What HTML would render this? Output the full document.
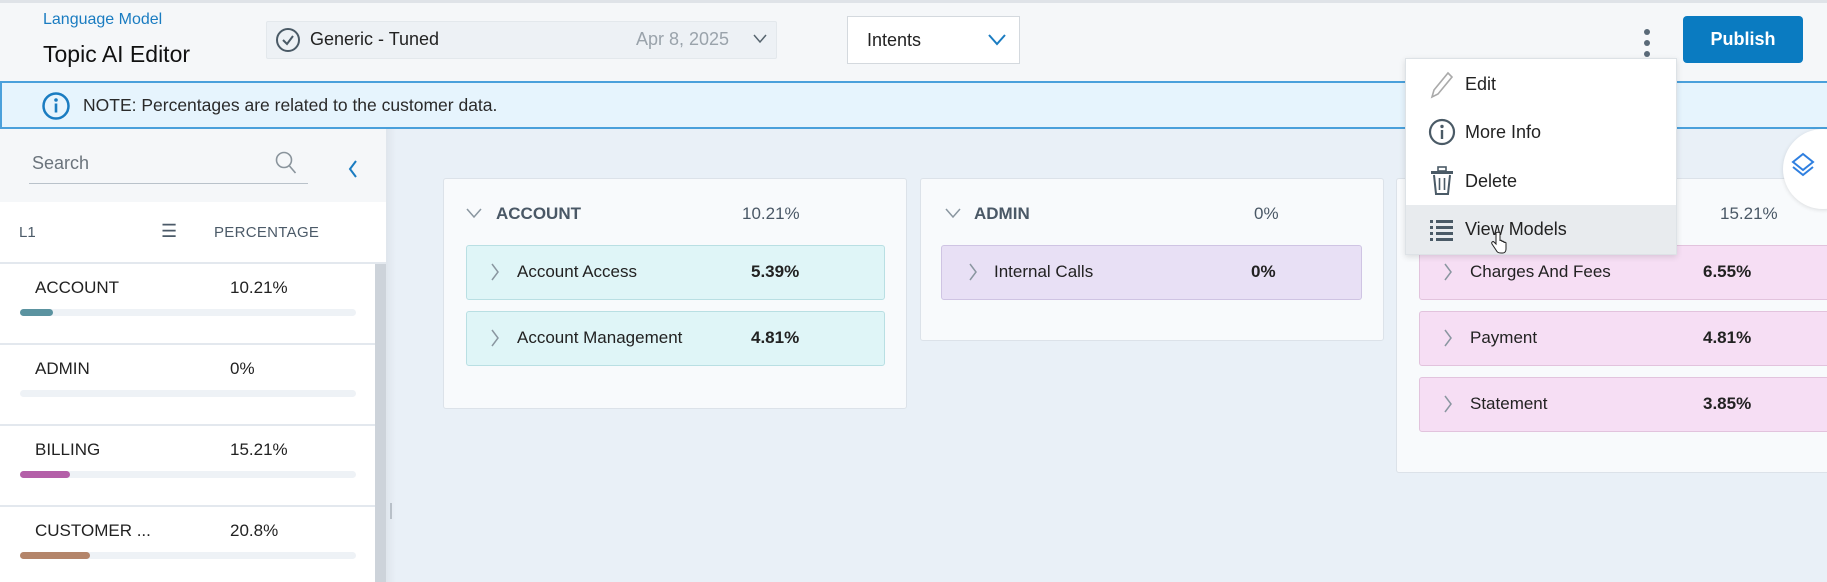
<!DOCTYPE html>
<html><head><meta charset="utf-8"><style>
*{box-sizing:border-box;margin:0;padding:0}
body{width:1827px;height:582px;overflow:hidden;position:relative;background:#f5f7f9;font-family:"Liberation Sans",sans-serif;color:#222}
.a{position:absolute;white-space:nowrap}
.card{position:absolute;background:#f8fafc;border:1px solid #dce2e9;border-radius:3px}
.it{position:absolute;border-radius:3px;height:55px}
.row{position:absolute;left:0;width:375px;height:81px;border-bottom:2px solid #e3e8ee;background:#fff}
.track{position:absolute;left:20px;top:25px;width:336px;height:7px;border-radius:4px;background:#eef2f6}
.fill{position:absolute;left:0;top:0;height:7px;border-radius:4px}
</style></head><body>
<div class="a" style="left:0;top:0;width:1827px;height:3px;background:#dfe3e8"></div>
<div class="a" style="left:43px;top:11px;font-size:16px;color:#1a7cc1">Language Model</div>
<div class="a" style="left:43px;top:41px;font-size:23px;color:#111">Topic AI Editor</div>
<div class="a" style="left:266px;top:21px;width:511px;height:38px;background:#edf1f5;border:1px solid #e3e8ec;border-radius:2px"></div>
<svg class="a" style="left:275px;top:27px" width="26" height="26"><circle cx="13" cy="13" r="11" fill="none" stroke="#4a5a66" stroke-width="2"/><path d="M8 13l4 4 6-8" fill="none" stroke="#4a5a66" stroke-width="2"/></svg>
<div class="a" style="left:310px;top:29px;font-size:18px;color:#222">Generic - Tuned</div>
<div class="a" style="left:636px;top:29px;font-size:18px;color:#9aa3ab">Apr 8, 2025</div>
<svg class="a" style="left:753px;top:34px" width="14" height="10"><path d="M1 1l6 7 6-7" fill="none" stroke="#56646e" stroke-width="1.5"/></svg>
<div class="a" style="left:847px;top:16px;width:173px;height:48px;background:#fff;border:1px solid #d4d9de"></div>
<div class="a" style="left:867px;top:30px;font-size:18px;color:#222">Intents</div>
<svg class="a" style="left:988px;top:34px" width="18" height="12"><path d="M1 1l8 9 8-9" fill="none" stroke="#1a7cc1" stroke-width="2"/></svg>
<svg class="a" style="left:1642px;top:28px" width="10" height="30"><circle cx="5" cy="4" r="3" fill="#5a6a78"/><circle cx="5" cy="15" r="3" fill="#5a6a78"/><circle cx="5" cy="26" r="3" fill="#5a6a78"/></svg>
<div class="a" style="left:1683px;top:16px;width:120px;height:47px;background:#0a7bc1;border-radius:4px;color:#fff;font-size:18px;font-weight:bold;text-align:center;line-height:47px">Publish</div>
<div class="a" style="left:0;top:81px;width:1827px;height:48px;background:#e6f4fd;border-top:2px solid #4aa0db;border-bottom:2px solid #4aa0db;border-left:2px solid #4aa0db"></div>
<svg class="a" style="left:41px;top:91px" width="30" height="30"><circle cx="15" cy="15" r="12.5" fill="none" stroke="#1a7cc1" stroke-width="2.5"/><circle cx="15" cy="9" r="1.8" fill="#1a7cc1"/><rect x="13.7" y="12.5" width="2.6" height="9" fill="#1a7cc1"/></svg>
<div class="a" style="left:83px;top:95px;font-size:17.5px;color:#2a2a2a">NOTE: Percentages are related to the customer data.</div>
<div class="a" style="left:0;top:129px;width:386px;height:453px;background:#f5f7f9"></div>
<div class="a" style="left:386px;top:129px;width:10px;height:453px;background:linear-gradient(90deg,#dfe5ec,#e9f0f7)"></div>
<div class="a" style="left:390px;top:503px;width:2px;height:16px;background:#b8c0c8"></div>
<div class="a" style="left:396px;top:129px;width:1431px;height:453px;background:#e9f0f7"></div>
<div class="a" style="left:32px;top:153px;font-size:18px;color:#6b747c">Search</div>
<svg class="a" style="left:274px;top:150px" width="24" height="26"><circle cx="10" cy="10" r="7.5" fill="none" stroke="#8a949c" stroke-width="1.6"/><path d="M15.5 16l6 7" stroke="#8a949c" stroke-width="1.6"/></svg>
<div class="a" style="left:29px;top:183px;width:279px;height:1px;background:#b9c2ca"></div>
<svg class="a" style="left:347px;top:159px" width="12" height="20"><path d="M9 2L3 10l6 8" fill="none" stroke="#1a7cc1" stroke-width="2"/></svg>
<div class="a" style="left:0;top:202px;width:386px;height:62px;background:#fff;border-bottom:2px solid #e3e8ee"></div>
<div class="a" style="left:19px;top:224px;font-size:15px;color:#4b5a68">L1</div>
<div class="a" style="left:161px;top:221px;font-size:18px;color:#4b5a68">☰</div>
<div class="a" style="left:214px;top:224px;font-size:15px;color:#4b5a68;letter-spacing:.3px">PERCENTAGE</div>
<div class="row" style="top:264px"><div class="a" style="left:35px;top:14px;font-size:17px">ACCOUNT</div><div class="a" style="left:230px;top:14px;font-size:17px">10.21%</div><div class="track" style="top:45px"><div class="fill" style="width:33px;background:#5b93a0"></div></div></div>
<div class="row" style="top:345px"><div class="a" style="left:35px;top:14px;font-size:17px">ADMIN</div><div class="a" style="left:230px;top:14px;font-size:17px">0%</div><div class="track" style="top:45px"></div></div>
<div class="row" style="top:426px"><div class="a" style="left:35px;top:14px;font-size:17px">BILLING</div><div class="a" style="left:230px;top:14px;font-size:17px">15.21%</div><div class="track" style="top:45px"><div class="fill" style="width:50px;background:#b45fa8"></div></div></div>
<div class="row" style="top:507px;height:75px;border:0"><div class="a" style="left:35px;top:14px;font-size:17px">CUSTOMER ...</div><div class="a" style="left:230px;top:14px;font-size:17px">20.8%</div><div class="track" style="top:45px"><div class="fill" style="width:70px;background:#b4856a"></div></div></div>
<div class="a" style="left:375px;top:264px;width:11px;height:318px;background:#cdd3da"></div>

<div class="card" style="left:443px;top:178px;width:464px;height:231px"></div>
<svg class="a" style="left:466px;top:208px" width="16" height="11"><path d="M1 1l7 8 7-8" fill="none" stroke="#8a96a0" stroke-width="1.5"/></svg>
<div class="a" style="left:496px;top:204px;font-size:17px;font-weight:bold;color:#4a5866">ACCOUNT</div>
<div class="a" style="left:742px;top:204px;font-size:17px;color:#4a5866">10.21%</div>
<div class="it" style="left:466px;top:245px;width:419px;background:#dff5f7;border:1px solid #b9dfe3"></div>
<div class="it" style="left:466px;top:311px;width:419px;background:#dff5f7;border:1px solid #b9dfe3"></div>
<svg class="a" style="left:490px;top:263px" width="10" height="18"><path d="M2 1l6 8-6 8" fill="none" stroke="#8a96a0" stroke-width="1.5"/></svg>
<div class="a" style="left:517px;top:262px;font-size:17px">Account Access</div><div class="a" style="left:751px;top:262px;font-size:17px;font-weight:bold">5.39%</div>
<svg class="a" style="left:490px;top:329px" width="10" height="18"><path d="M2 1l6 8-6 8" fill="none" stroke="#8a96a0" stroke-width="1.5"/></svg>
<div class="a" style="left:517px;top:328px;font-size:17px">Account Management</div><div class="a" style="left:751px;top:328px;font-size:17px;font-weight:bold">4.81%</div>

<div class="card" style="left:920px;top:178px;width:464px;height:163px"></div>
<svg class="a" style="left:945px;top:208px" width="16" height="11"><path d="M1 1l7 8 7-8" fill="none" stroke="#8a96a0" stroke-width="1.5"/></svg>
<div class="a" style="left:974px;top:204px;font-size:17px;font-weight:bold;color:#4a5866">ADMIN</div>
<div class="a" style="left:1254px;top:204px;font-size:17px;color:#4a5866">0%</div>
<div class="it" style="left:941px;top:245px;width:421px;background:#e8e0f5;border:1px solid #cfc4e3"></div>
<svg class="a" style="left:968px;top:263px" width="10" height="18"><path d="M2 1l6 8-6 8" fill="none" stroke="#8a96a0" stroke-width="1.5"/></svg>
<div class="a" style="left:994px;top:262px;font-size:17px">Internal Calls</div><div class="a" style="left:1251px;top:262px;font-size:17px;font-weight:bold">0%</div>

<div class="card" style="left:1396px;top:178px;width:440px;height:295px"></div>
<div class="a" style="left:1720px;top:204px;font-size:17px;color:#4a5866">15.21%</div>
<div class="it" style="left:1419px;top:245px;width:420px;background:#f6def4;border:1px solid #e2c3dd"></div>
<div class="it" style="left:1419px;top:311px;width:420px;background:#f6def4;border:1px solid #e2c3dd"></div>
<div class="it" style="left:1419px;top:377px;width:420px;background:#f6def4;border:1px solid #e2c3dd"></div>
<svg class="a" style="left:1443px;top:263px" width="10" height="18"><path d="M2 1l6 8-6 8" fill="none" stroke="#8a96a0" stroke-width="1.5"/></svg>
<div class="a" style="left:1470px;top:262px;font-size:17px">Charges And Fees</div><div class="a" style="left:1703px;top:262px;font-size:17px;font-weight:bold">6.55%</div>
<svg class="a" style="left:1443px;top:329px" width="10" height="18"><path d="M2 1l6 8-6 8" fill="none" stroke="#8a96a0" stroke-width="1.5"/></svg>
<div class="a" style="left:1470px;top:328px;font-size:17px">Payment</div><div class="a" style="left:1703px;top:328px;font-size:17px;font-weight:bold">4.81%</div>
<svg class="a" style="left:1443px;top:395px" width="10" height="18"><path d="M2 1l6 8-6 8" fill="none" stroke="#8a96a0" stroke-width="1.5"/></svg>
<div class="a" style="left:1470px;top:394px;font-size:17px">Statement</div><div class="a" style="left:1703px;top:394px;font-size:17px;font-weight:bold">3.85%</div>

<div class="a" style="left:1783px;top:129px;width:80px;height:80px;border-radius:50%;background:#fff;box-shadow:0 1px 4px rgba(0,0,0,.12)"></div>
<svg class="a" style="left:1790px;top:152px" width="26" height="28"><path d="M13 2l10 8-10 8-10-8z" fill="none" stroke="#2f7fe0" stroke-width="2"/><path d="M3 15l10 8 10-8" fill="none" stroke="#2f7fe0" stroke-width="2"/></svg>

<div class="a" style="left:1405px;top:58px;width:272px;height:197px;background:#fff;border:1px solid #dde2e6;box-shadow:0 2px 6px rgba(0,0,0,.12)"></div>
<div class="a" style="left:1406px;top:205px;width:270px;height:49px;background:#e8ebee"></div>
<svg class="a" style="left:1428px;top:70px" width="26" height="30"><path d="M4 27l2-7L20 3l4 4L10 24z" fill="none" stroke="#aaa" stroke-width="1.6"/></svg>
<div class="a" style="left:1465px;top:74px;font-size:18px">Edit</div>
<svg class="a" style="left:1428px;top:118px" width="28" height="28"><circle cx="14" cy="14" r="12" fill="none" stroke="#4a5a66" stroke-width="2.2"/><circle cx="14" cy="8.5" r="1.7" fill="#4a5a66"/><rect x="12.8" y="12" width="2.4" height="9" fill="#4a5a66"/></svg>
<div class="a" style="left:1465px;top:122px;font-size:18px">More Info</div>
<svg class="a" style="left:1429px;top:166px" width="26" height="30"><rect x="2" y="5" width="22" height="3" fill="#4a5a66"/><rect x="9" y="1" width="8" height="4" fill="none" stroke="#4a5a66" stroke-width="1.6"/><path d="M5 9l2 19h12l2-19" fill="none" stroke="#4a5a66" stroke-width="2"/><path d="M10.5 12v12M15.5 12v12" stroke="#4a5a66" stroke-width="1.6"/></svg>
<div class="a" style="left:1465px;top:171px;font-size:18px">Delete</div>
<svg class="a" style="left:1430px;top:219px" width="24" height="22"><g fill="#4a5a66"><rect x="0" y="1" width="3" height="3"/><rect x="6" y="1" width="17" height="3"/><rect x="0" y="7" width="3" height="3"/><rect x="6" y="7" width="17" height="3"/><rect x="0" y="13" width="3" height="3"/><rect x="6" y="13" width="17" height="3"/><rect x="0" y="19" width="3" height="3"/><rect x="6" y="19" width="17" height="3"/></g></svg>
<div class="a" style="left:1465px;top:219px;font-size:18px">View Models</div>
<svg class="a" style="left:1491px;top:231px" width="16" height="24"><path d="M5 2v11l-2-2c-1-1-3 0-2 2l4 6c1 2 2 3 5 3h2c2 0 3-2 3-4v-6c0-1-2-1-2 0v-1c0-1-2-1-2 0v-1c0-1-2-1-2 0V2c0-1-4-1-4 0z" fill="#fff" stroke="#222" stroke-width="1"/></svg>
</body></html>
